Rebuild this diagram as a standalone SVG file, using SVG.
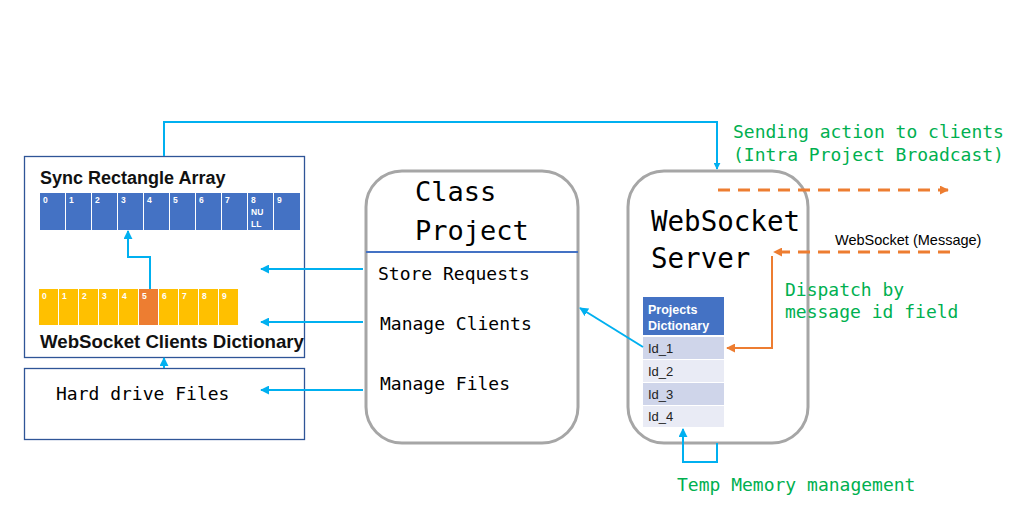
<svg xmlns="http://www.w3.org/2000/svg" width="1010" height="526" viewBox="0 0 1010 526">
<style>
.mono{font-family:"DejaVu Sans Mono","Liberation Mono",monospace;}
.sans{font-family:"Liberation Sans",Arial,sans-serif;}
.green{fill:#00B050;font-size:18px;}
.cnum{font-family:"Liberation Sans",Arial,sans-serif;font-size:8.5px;font-weight:bold;fill:#fff;}
.blue{fill:#4472C4;}
.yel{fill:#FFC000;}
.rbox{fill:#fff;stroke:#A6A6A6;stroke-width:3;}
.cb{fill:none;stroke:#00B0F0;stroke-width:2;}
.co{fill:none;stroke:#ED7D31;stroke-width:2;}
.cod{fill:none;stroke:#ED7D31;stroke-width:3;stroke-dasharray:12 8;}
</style>
<defs>
<marker id="ab" viewBox="0 0 10 10" refX="9" refY="5" markerWidth="4.5" markerHeight="4.5" orient="auto" markerUnits="strokeWidth"><path d="M0,0 L10,5 L0,10 z" fill="#00B0F0"/></marker>
<marker id="ab3" viewBox="0 0 10 10" refX="9" refY="5" markerWidth="3.5" markerHeight="3.5" orient="auto" markerUnits="strokeWidth"><path d="M0,0 L10,5 L0,10 z" fill="#00B0F0"/></marker>
<marker id="ao" viewBox="0 0 10 10" refX="9" refY="5" markerWidth="4.5" markerHeight="4.5" orient="auto" markerUnits="strokeWidth"><path d="M0,0 L10,5 L0,10 z" fill="#ED7D31"/></marker>
<marker id="aod" viewBox="0 0 10 10" refX="9" refY="5" markerWidth="3" markerHeight="3" orient="auto" markerUnits="strokeWidth"><path d="M0,0 L10,5 L0,10 z" fill="#ED7D31"/></marker>
</defs>
<rect width="1010" height="526" fill="#fff"/>

<g id="sync-container">
<rect x="24.5" y="156.5" width="280" height="201" fill="#fff" stroke="#2F5597" stroke-width="1.3"/>
<text x="40" y="184" class="sans" font-size="18" font-weight="bold" fill="#111">Sync Rectangle Array</text>
<g id="sync-array">
<rect class="blue" x="40" y="193" width="25" height="37"/>
<rect class="blue" x="66" y="193" width="25" height="37"/>
<rect class="blue" x="92" y="193" width="25" height="37"/>
<rect class="blue" x="118" y="193" width="25" height="37"/>
<rect class="blue" x="144" y="193" width="25" height="37"/>
<rect class="blue" x="170" y="193" width="25" height="37"/>
<rect class="blue" x="196" y="193" width="25" height="37"/>
<rect class="blue" x="222" y="193" width="25" height="37"/>
<rect class="blue" x="248" y="193" width="25" height="37"/>
<rect class="blue" x="274" y="193" width="26" height="37"/>
<text class="cnum" x="43" y="203">0</text>
<text class="cnum" x="69" y="203">1</text>
<text class="cnum" x="95" y="203">2</text>
<text class="cnum" x="121" y="203">3</text>
<text class="cnum" x="147" y="203">4</text>
<text class="cnum" x="173" y="203">5</text>
<text class="cnum" x="199" y="203">6</text>
<text class="cnum" x="225" y="203">7</text>
<text class="cnum" x="251" y="203">8</text>
<text class="cnum" x="251" y="215">NU</text>
<text class="cnum" x="251" y="227">LL</text>
<text class="cnum" x="277" y="203">9</text>
</g>
<g id="clients-array">
<rect class="yel" x="39" y="289" width="19" height="36"/>
<rect class="yel" x="59" y="289" width="19" height="36"/>
<rect class="yel" x="79" y="289" width="19" height="36"/>
<rect class="yel" x="99" y="289" width="19" height="36"/>
<rect class="yel" x="119" y="289" width="19" height="36"/>
<rect fill="#ED7D31" x="139" y="289" width="19" height="36"/>
<rect class="yel" x="159" y="289" width="19" height="36"/>
<rect class="yel" x="179" y="289" width="19" height="36"/>
<rect class="yel" x="199" y="289" width="19" height="36"/>
<rect class="yel" x="219" y="289" width="19" height="36"/>
<text class="cnum" x="42" y="299">0</text>
<text class="cnum" x="62" y="299">1</text>
<text class="cnum" x="82" y="299">2</text>
<text class="cnum" x="102" y="299">3</text>
<text class="cnum" x="122" y="299">4</text>
<text class="cnum" x="142" y="299">5</text>
<text class="cnum" x="162" y="299">6</text>
<text class="cnum" x="182" y="299">7</text>
<text class="cnum" x="202" y="299">8</text>
<text class="cnum" x="222" y="299">9</text>
</g>
<text x="40" y="348" class="sans" font-size="18.5" font-weight="bold" fill="#111" textLength="264" lengthAdjust="spacingAndGlyphs">WebSocket Clients Dictionary</text>
</g>

<g id="hard-drive">
<rect x="24.5" y="368.5" width="280" height="71" fill="#fff" stroke="#2F5597" stroke-width="1.3"/>
<text x="56" y="400" class="mono" font-size="18" fill="#000">Hard drive Files</text>
</g>

<g id="class-project">
<rect class="rbox" x="366" y="171" width="212" height="272" rx="36" ry="36"/>
<line x1="366" y1="252" x2="578" y2="252" stroke="#4472C4" stroke-width="2"/>
<text x="415" y="201" class="mono" font-size="27" fill="#000">Class</text>
<text x="415" y="240" class="mono" font-size="27" fill="#000">Project</text>
<text x="378" y="280" class="mono" font-size="18" fill="#000">Store Requests</text>
<text x="380" y="330" class="mono" font-size="18" fill="#000">Manage Clients</text>
<text x="380" y="390" class="mono" font-size="18" fill="#000">Manage Files</text>
</g>

<g id="websocket-server">
<rect class="rbox" x="628" y="171" width="180" height="272" rx="36" ry="36"/>
<text x="651" y="231" class="mono" font-size="27.5" fill="#000">WebSocket</text>
<text x="651" y="268" class="mono" font-size="27.5" fill="#000">Server</text>
<g id="projects-dictionary">
<rect x="643" y="297" width="81" height="38" fill="#4472C4"/>
<text x="648" y="314" class="sans" font-size="12.5" font-weight="bold" fill="#fff">Projects</text>
<text x="648" y="330" class="sans" font-size="12.5" font-weight="bold" fill="#fff">Dictionary</text>
<rect x="643" y="337" width="81" height="22" fill="#CFD5EA"/>
<rect x="643" y="360" width="81" height="22" fill="#E9EBF5"/>
<rect x="643" y="383" width="81" height="22" fill="#CFD5EA"/>
<rect x="643" y="406" width="81" height="21" fill="#E9EBF5"/>
<text x="648" y="353" class="sans" font-size="13" fill="#222">Id_1</text>
<text x="648" y="376" class="sans" font-size="13" fill="#222">Id_2</text>
<text x="648" y="399" class="sans" font-size="13" fill="#222">Id_3</text>
<text x="648" y="421" class="sans" font-size="13" fill="#222">Id_4</text>
</g>
</g>

<g id="connectors">
<path class="cb" d="M164,156 V122 H717 V169" stroke-width="3" marker-end="url(#ab3)"/>
<path class="cb" d="M150,289 V257 H128 V231" marker-end="url(#ab)"/>
<path class="cb" d="M363,269 H261" marker-end="url(#ab)"/>
<path class="cb" d="M363,322 H261" marker-end="url(#ab)"/>
<path class="cb" d="M363,390 H261" marker-end="url(#ab)"/>
<path class="cb" d="M164,368 V358" marker-end="url(#ab)"/>
<path class="cb" d="M643,347 L580,308" marker-end="url(#ab)"/>
<path class="cb" d="M717,443 V462 H683 V429" marker-end="url(#ab)"/>
<path class="cod" d="M718,190 H948" marker-end="url(#aod)"/>
<path class="cod" d="M950,252 H774" marker-end="url(#aod)"/>
<path class="co" d="M772,256 V348 H727" marker-end="url(#ao)"/>
</g>

<g id="labels">
<text x="733" y="138" class="mono green">Sending action to clients</text>
<text x="733" y="161" class="mono green">(Intra Project Broadcast)</text>
<text x="835" y="245" class="sans" font-size="14.5" fill="#000">WebSocket (Message)</text>
<text x="785" y="296" class="mono green">Dispatch by</text>
<text x="785" y="318" class="mono green">message id field</text>
<text x="677" y="491" class="mono green" font-size="18.5">Temp Memory management</text>
</g>
</svg>
